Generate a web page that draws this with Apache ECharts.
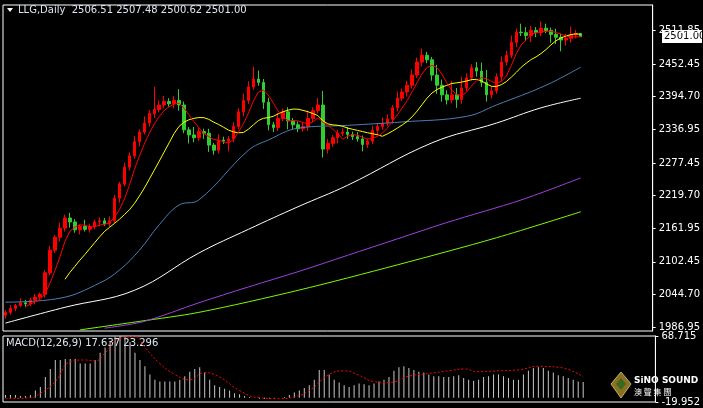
<!DOCTYPE html>
<html>
<head>
<meta charset="utf-8">
<script src="https://cdn.jsdelivr.net/npm/echarts@6/dist/echarts.min.js"></script>
<style>html,body{margin:0;padding:0;background:#000}#main{width:703px;height:408px}</style>
</head>
<body>
<div id="main"></div>
<script>
// closes, one per candle
var closes = [2013,2020,2025,2030,2028,2035,2040,2045,2083,2123,2146,2162,2180,2173,2159,2165,2160,2165,2173,2175,
  2170,2175,2215,2240,2270,2290,2315,2332,2348,2365,2372,2380,2386,2382,2388,2380,2336,2327,2322,2333,
  2330,2309,2300,2318,2316,2320,2342,2368,2388,2412,2426,2420,2385,2345,2340,2356,2368,2352,2345,2338,
  2342,2356,2370,2380,2302,2312,2322,2330,2332,2328,2324,2320,2310,2316,2335,2342,2348,2355,2375,2392,
  2403,2415,2433,2456,2468,2460,2433,2415,2398,2389,2398,2390,2410,2428,2446,2440,2420,2398,2405,2430,
  2456,2468,2491,2509,2508,2503,2512,2508,2516,2512,2505,2500,2495,2498,2504,2506.51,2501.00];
var wickUp = [4,6,3,8,5,4,6,3,5,8,4,10,6,9,5,4,12,5,4,6,5,8,6,4,8,6,10,5,12,6,40,8,10,6,8,20,6,5,14,6,
  5,8,4,10,6,5,8,6,12,10,22,15,6,8,5,10,6,8,5,6,8,14,6,12,25,8,5,6,7,9,5,8,6,5,8,6,10,8,5,12,
  6,8,10,8,12,6,5,18,10,8,25,12,20,8,6,10,15,22,8,6,10,8,12,6,15,10,8,6,12,8,5,10,6,8,15,6,0.97];
var wickDn = [6,4,5,3,6,4,8,5,6,4,5,8,6,10,5,8,4,6,5,8,4,6,5,8,4,6,5,8,4,6,8,5,6,5,8,10,6,15,8,6,
  10,12,8,6,5,18,6,5,8,6,5,6,12,10,8,6,5,15,8,6,5,8,6,5,15,8,6,10,5,8,6,5,12,6,5,8,6,5,8,6,
  5,8,6,5,8,6,10,15,12,8,6,15,8,6,5,10,8,12,6,5,8,6,5,8,6,10,12,8,6,5,15,12,20,10,8,6,0.38];

// long moving averages, [candle index, value]
var maBlue = [[0,2031],[11,2038],[19,2065],[23,2088],[27,2123],[31,2168],[35,2203],[39,2212],[49,2300],[53,2318],
  [59,2339],[69,2344],[80,2350],[93,2360],[99,2380],[109,2415],[116,2447]];
var maWhite = [[0,1994],[12,2022],[26,2052],[39,2118],[49,2160],[59,2200],[69,2238],[86,2313],[99,2348],[108,2375],[116,2392]];
var maPurple = [[20,1985],[28,1997],[39,2030],[49,2058],[59,2085],[69,2114],[79,2143],[89,2172],[104,2212],[116,2251]];
var maGreen = [[15,1982],[27,1997],[39,2013],[59,2052],[79,2097],[99,2145],[116,2191]];

var macdHist = [3,3,3,2,2,3,8,12,23,32,42,42,43,43,43,38,38,38,42,50,56,62,68,70,68,62,50,42,35,26,
  20,18,18,18,18,20,24,29,32,34,28,20,14,12,10,8,5,4,2,1,0,-1,-1,-1,-1,0,1,3,6,8,
  11,14,20,31,31,26,20,17,14,12,14,16,15,14,16,18,20,23,30,34,35,33,31,29,28,26,24,24,23,23,
  24,25,22,20,19,20,23,24,26,26,24,22,20,20,26,30,33,34,33,30,28,25,24,22,20,18,17.637];
var macdSignal = [[0,-1],[5,0],[7,5],[10,18],[13,40],[16,42],[18,41],[20,50],[23,66],[26,68],[28,56],[31,38],
  [34,26],[37,20],[40,28],[43,23],[47,8],[51,0],[55,-1],[58,1],[61,8],[65,26],[68,30],[71,25],[74,18],[77,17],
  [81,24],[85,27],[89,30],[92,32],[95,29],[99,30],[103,31],[107,35],[111,34],[116,23.296]];

var priceTicks = [1986.95,2044.70,2102.45,2161.95,2219.70,2277.45,2336.95,2394.70,2452.45,2511.85];
var totalSlots = 131;

var cats = [];
for (var i = 0; i < totalSlots; i++) cats.push(i);
var ohlc = closes.map(function (c, i) {
  var o = i === 0 ? 2008 : (i === closes.length - 1 ? 2506.51 : closes[i - 1]);
  return [o, c, Math.min(o, c) - wickDn[i], Math.max(o, c) + wickUp[i]];
});
function sma(n) {
  return closes.map(function (c, i) {
    if (i < n - 1) return null;
    var s = 0;
    for (var k = i - n + 1; k <= i; k++) s += closes[k];
    return +(s / n).toFixed(2);
  });
}

var chart = echarts.init(document.getElementById('main'));
var lbl = { color: '#fff', fontSize: 10, fontFamily: 'DejaVu Sans' };
var lineS = function (name, data, color, smooth) {
  return { name: name, type: 'line', data: data, symbol: 'none', smooth: smooth,
    connectNulls: true, lineStyle: { color: color, width: 1 }, silent: true, animation: false };
};
chart.setOption({
  backgroundColor: '#000',
  animation: false,
  grid: [
    { left: 3, right: 43, top: 5, height: 326, show: true, borderColor: '#fff', borderWidth: 1 },
    { left: 3, right: 43, top: 336, height: 66, show: true, borderColor: '#fff', borderWidth: 1 }
  ],
  xAxis: [
    { type: 'category', data: cats, gridIndex: 0, axisLine: { show: false }, axisTick: { show: false }, axisLabel: { show: false } },
    { type: 'category', data: cats, gridIndex: 1, axisLine: { show: false }, axisTick: { show: false }, axisLabel: { show: false } }
  ],
  yAxis: [
    { type: 'value', gridIndex: 0, position: 'right', min: 1980, max: 2557, splitLine: { show: false },
      axisLine: { show: true, lineStyle: { color: '#fff' } },
      axisTick: { show: true, customValues: priceTicks, length: 3, lineStyle: { color: '#fff' } },
      axisLabel: Object.assign({ customValues: priceTicks, margin: 6, formatter: function (v) { return v.toFixed(2); } }, lbl) },
    { type: 'value', gridIndex: 1, position: 'right', min: -4.7, max: 68.715, splitLine: { show: false },
      axisLine: { show: true, lineStyle: { color: '#fff' } },
      axisTick: { show: true, customValues: [68.715, -4.7], length: 3, lineStyle: { color: '#fff' } },
      axisLabel: Object.assign({ customValues: [68.715, -4.7], margin: 6,
        formatter: function (v) { return v > 0 ? '68.715' : '-19.952'; } }, lbl) }
  ],
  series: [
    lineS('MA200', maGreen, '#7cfc00', 0.3),
    lineS('MA144', maPurple, '#a040e0', 0.3),
    lineS('MA100', maWhite, '#ffffff', 0.4),
    lineS('MA55', maBlue, '#4a7fb5', 0.4),
    { type: 'candlestick', data: ohlc, barWidth: 3, silent: true,
      itemStyle: { color: '#ff0000', color0: '#32cd32', borderColor: '#ff0000', borderColor0: '#32cd32', borderWidth: 1 } },
    lineS('MA13', sma(13), '#ffff00', false),
    lineS('MA5', sma(5), '#ff0000', false),
    { type: 'bar', data: macdHist, xAxisIndex: 1, yAxisIndex: 1, barWidth: 1, silent: true,
      itemStyle: { color: '#c8c8c8' } },
    { type: 'line', data: macdSignal, xAxisIndex: 1, yAxisIndex: 1, symbol: 'none', smooth: true, silent: true,
      lineStyle: { color: '#ff0000', width: 1, type: [2, 2] } }
  ],
  graphic: [
    { type: 'polygon', shape: { points: [[7, 8], [13, 8], [10, 12]] }, style: { fill: '#fff' } },
    { type: 'text', left: 18, top: 5, style: { text: 'LLG,Daily  2506.51 2507.48 2500.62 2501.00', fill: '#dfe6f0', font: '10px DejaVu Sans' } },
    { type: 'text', left: 6, top: 338, style: { text: 'MACD(12,26,9) 17.637 23.296', fill: '#dfe6f0', font: '10px DejaVu Sans' } },
    { type: 'rect', shape: { x: 662, y: 30, width: 40, height: 13 }, style: { fill: '#fff' } },
    { type: 'text', left: 664, top: 31, style: { text: '2501.00', fill: '#000', font: '10px DejaVu Sans' } },
    { type: 'polygon', shape: { points: [[621, 372], [631, 384], [621, 398], [611, 384]] },
      style: { fill: '#8a7020', stroke: '#c0b060', lineWidth: 1 } },
    { type: 'polygon', shape: { points: [[621, 378], [626, 384], [621, 390], [616, 384]] }, style: { fill: '#3a6a20' } },
    { type: 'text', left: 634, top: 376, style: { text: 'SiNO SOUND', fill: '#fff', font: 'bold 9px DejaVu Sans' } },
    { type: 'text', left: 634, top: 388, style: { text: '澳 聲 集 團', fill: '#fff', font: '8px Noto Sans CJK TC' } }
  ]
});
</script>
</body>
</html>
